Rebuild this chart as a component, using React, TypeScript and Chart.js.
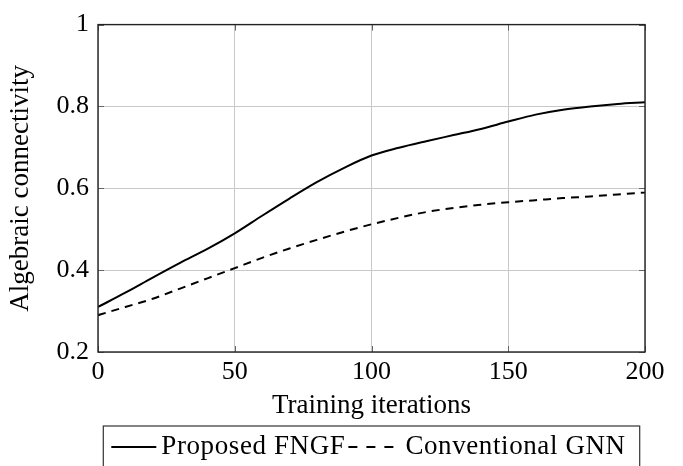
import React, { useEffect, useRef } from "react";
import { Chart, registerables } from "chart.js";

Chart.register(...registerables);

const iterations = [0, 10, 20, 30, 40, 50, 60, 70, 80, 90, 100, 110, 120, 130, 140, 150, 160, 170, 180, 190, 200];
const proposedFNGF = [0.31, 0.345, 0.382, 0.418, 0.452, 0.49, 0.533, 0.575, 0.615, 0.65, 0.68, 0.699, 0.715, 0.73, 0.745, 0.763, 0.78, 0.792, 0.8, 0.806, 0.81];
const conventionalGNN = [0.29, 0.31, 0.33, 0.355, 0.38, 0.405, 0.43, 0.453, 0.474, 0.494, 0.512, 0.528, 0.542, 0.552, 0.56, 0.566, 0.571, 0.576, 0.58, 0.585, 0.59];
const seriesNames = ["Proposed FNGF", "Conventional GNN"];
const xTitle = "Training iterations";
const yTitle = "Algebraic connectivity";

const FONT = "'Liberation Serif', 'Times New Roman', serif";
const FS = 26;
const FS_TITLE = 27;

const framePlugin = {
  id: "frame",
  afterDatasetsDraw(chart: any) {
    const { ctx, chartArea: a, scales } = chart;
    ctx.save();
    ctx.strokeStyle = "#666";
    ctx.lineWidth = 1;
    const tl = 6;
    scales.x.ticks.forEach((t: any) => {
      const px = Math.round(scales.x.getPixelForValue(t.value)) + 0.5;
      ctx.beginPath();
      ctx.moveTo(px, a.bottom);
      ctx.lineTo(px, a.bottom - tl);
      ctx.moveTo(px, a.top);
      ctx.lineTo(px, a.top + tl);
      ctx.stroke();
    });
    scales.y.ticks.forEach((t: any) => {
      const py = Math.round(scales.y.getPixelForValue(t.value)) + 0.5;
      ctx.beginPath();
      ctx.moveTo(a.left, py);
      ctx.lineTo(a.left + tl, py);
      ctx.moveTo(a.right, py);
      ctx.lineTo(a.right - tl, py);
      ctx.stroke();
    });
    ctx.strokeStyle = "#222";
    ctx.lineWidth = 1.4;
    ctx.strokeRect(a.left, a.top, a.right - a.left, a.bottom - a.top);
    ctx.restore();
  },
  afterDraw(chart: any) {
    const { ctx, chartArea: a, scales } = chart;
    const ds = chart.data.datasets;
    ctx.save();
    ctx.font = `${FS_TITLE}px ${FONT}`;
    try { (ctx as any).letterSpacing = "0.6px"; } catch (e) {}
    const lineLen = 45;
    const gapText = 5;
    const gapAfterText = 3;
    const gapBeforeText2 = 12;
    const w1 = ctx.measureText(ds[0].label).width;
    const w2 = ctx.measureText(ds[1].label).width;
    const contentW = lineLen + gapText + w1 + gapAfterText + lineLen + gapBeforeText2 + w2;
    const padL = 8, padR = 14;
    const boxW = contentW + padL + padR;
    const cx = (a.left + a.right) / 2;
    const boxLeft = cx - boxW / 2;
    const boxTop = scales.x.bottom - 1;
    const cy = boxTop + 21;
    ctx.strokeStyle = "#333";
    ctx.lineWidth = 1.2;
    ctx.strokeRect(boxLeft, boxTop, boxW, chart.height - boxTop + 10);
    let x = boxLeft + padL;
    ctx.strokeStyle = ds[0].borderColor;
    ctx.lineWidth = ds[0].borderWidth;
    ctx.setLineDash([]);
    ctx.beginPath();
    ctx.moveTo(x, cy);
    ctx.lineTo(x + lineLen, cy);
    ctx.stroke();
    x += lineLen + gapText;
    ctx.fillStyle = "#000";
    ctx.textBaseline = "middle";
    ctx.textAlign = "left";
    ctx.fillText(ds[0].label, x, cy);
    x += w1 + gapAfterText;
    ctx.strokeStyle = ds[1].borderColor;
    ctx.lineWidth = ds[1].borderWidth;
    ctx.setLineDash([9, 9]);
    ctx.beginPath();
    ctx.moveTo(x, cy);
    ctx.lineTo(x + lineLen, cy);
    ctx.stroke();
    ctx.setLineDash([]);
    x += lineLen + gapBeforeText2;
    ctx.fillText(ds[1].label, x, cy);
    ctx.restore();
  },
};

export default function App() {
  const ref = useRef<HTMLCanvasElement | null>(null);
  useEffect(() => {
    if (!ref.current) return;
    const chart = new Chart(ref.current, {
      type: "line",
      data: {
        labels: iterations,
        datasets: [
          {
            label: seriesNames[0],
            data: iterations.map((x, i) => ({ x, y: proposedFNGF[i] })),
            borderColor: "#000",
            borderWidth: 2,
            pointRadius: 0,
            fill: false,
            cubicInterpolationMode: "monotone",
          },
          {
            label: seriesNames[1],
            data: iterations.map((x, i) => ({ x, y: conventionalGNN[i] })),
            borderColor: "#000",
            borderWidth: 2,
            borderDash: [8, 6],
            pointRadius: 0,
            fill: false,
            cubicInterpolationMode: "monotone",
          },
        ],
      },
      options: {
        animation: false,
        responsive: false,
        devicePixelRatio: 1,
        layout: { padding: { top: 19, right: 38, bottom: 39, left: 0 } },
        plugins: {
          legend: { display: false },
          tooltip: { enabled: false },
        },
        scales: {
          x: {
            type: "linear",
            min: 0,
            max: 200,
            ticks: {
              stepSize: 50,
              color: "#000",
              padding: 5,
              font: { family: FONT, size: FS },
              maxRotation: 0,
            },
            grid: { color: "#c8c8c8", lineWidth: 1, drawTicks: false },
            border: { display: false },
            title: {
              display: true,
              text: xTitle,
              color: "#000",
              font: { family: FONT, size: FS_TITLE },
              padding: { top: 0, bottom: 5 },
            },
            afterFit(scale: any) {
              scale.height = 75;
            },
          },
          y: {
            min: 0.2,
            max: 1,
            ticks: {
              stepSize: 0.2,
              color: "#000",
              padding: 9,
              font: { family: FONT, size: FS },
              callback: (v: any) => String(Number(Number(v).toFixed(1))),
            },
            grid: { color: "#c8c8c8", lineWidth: 1, drawTicks: false },
            border: { display: false },
            title: {
              display: true,
              text: yTitle,
              color: "#000",
              font: { family: FONT, size: FS_TITLE },
              padding: { top: 5, bottom: 0 },
            },
            afterFit(scale: any) {
              scale.width = 98;
            },
          },
        },
      },
      plugins: [framePlugin],
    });
    return () => chart.destroy();
  }, []);
  return (
    <div style={{ position: "fixed", left: 0, top: 0, width: 683, height: 466, background: "#fff" }}>
      <canvas ref={ref} width={683} height={466} style={{ width: 683, height: 466, display: "block" }} />
    </div>
  );
}
